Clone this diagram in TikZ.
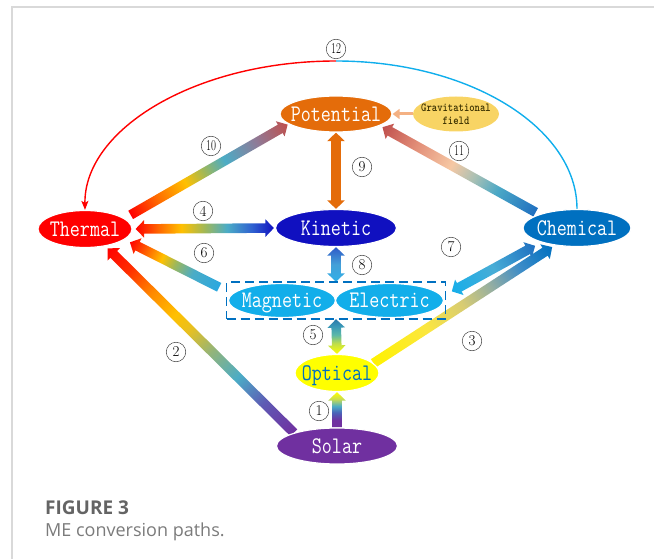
\documentclass[tikz,border=0pt]{standalone}
\usepackage{fontspec}
\newfontfamily\capfont{Open Sans}
\usetikzlibrary{calc,arrows.meta,shapes.geometric}

% ---------- colours ----------
\definecolor{cRed}{HTML}{FF0000}
\definecolor{cPot}{HTML}{E46C0A}
\definecolor{cKin}{HTML}{1010C0}
\definecolor{cChem}{HTML}{0070C0}
\definecolor{cME}{HTML}{12AEEA}
\definecolor{cOpt}{HTML}{FFFF00}
\definecolor{cSol}{HTML}{7030A0}
\definecolor{cGrav}{HTML}{F8D464}
\definecolor{cGravTxt}{HTML}{3A3000}
\definecolor{cPeach}{HTML}{F4B183}
\definecolor{cSky}{HTML}{10AEEC}
\definecolor{cFrame}{HTML}{D9D9D9}
\definecolor{cCap}{HTML}{646464}

\definecolor{gOrange}{HTML}{FF6A00}
\definecolor{gOrangeB}{HTML}{FF8A00}
\definecolor{gRedOr}{HTML}{FF3000}
\definecolor{gGold}{HTML}{FFC000}
\definecolor{gGoldB}{HTML}{E8C020}
\definecolor{gOlive}{HTML}{A0B858}
\definecolor{gOliveB}{HTML}{92B47A}
\definecolor{gTeal}{HTML}{4BACC6}
\definecolor{gBlue}{HTML}{2F62D0}
\definecolor{gViolet}{HTML}{5E5AB4}
\definecolor{gVioBlue}{HTML}{4A62B8}
\definecolor{gYelGrn}{HTML}{C8DC50}
\definecolor{gYelA}{HTML}{FFF200}
\definecolor{gYelB}{HTML}{FBE640}
\definecolor{gKhaki}{HTML}{D8CC72}
\definecolor{gGrayTeal}{HTML}{94AEA2}
\definecolor{gMidBlue}{HTML}{3C8CC8}
\definecolor{gYelGrnB}{HTML}{C0DE48}
\definecolor{gSeaGrn}{HTML}{5CB8A8}
\definecolor{gSeaBlue}{HTML}{3A98B8}
\definecolor{gDeepTeal}{HTML}{2A78A8}
\definecolor{gSkyA}{HTML}{2AA8E0}
\definecolor{gSkyB}{HTML}{16AEEA}
\definecolor{gSkyC}{HTML}{48ADD6}
\definecolor{gChemB}{HTML}{1F6FC0}
\definecolor{gSkyD}{HTML}{30B0E8}
\definecolor{gSkyE}{HTML}{44A0D8}
\definecolor{gKinB}{HTML}{2F5AC8}
\definecolor{gMauve}{HTML}{8E7B98}
\definecolor{gBrick}{HTML}{C0504D}
\definecolor{gTealB}{HTML}{4BA8C6}
\definecolor{gSage}{HTML}{A8C0B4}
\definecolor{gPeach}{HTML}{F6C8A4}
\definecolor{gSalmon}{HTML}{E28E78}

% ---------- shadings of the flow arrows (25bp = tail, 75bp = tip) ----------
\pgfdeclarehorizontalshading{flowI}{100bp}{color(0bp)=(cSol); color(25bp)=(cSol); color(35bp)=(cSol); color(46bp)=(gVioBlue); color(55bp)=(gTeal); color(65bp)=(gYelGrn); color(75bp)=(cOpt); color(100bp)=(cOpt)}
\pgfdeclarehorizontalshading{flowII}{100bp}{color(0bp)=(cSol); color(25bp)=(cSol); color(33bp)=(gViolet); color(40bp)=(gTeal); color(47bp)=(gOliveB); color(53bp)=(gGoldB); color(57bp)=(gGold); color(63bp)=(gOrangeB); color(69bp)=(gRedOr); color(75bp)=(cRed); color(100bp)=(cRed)}
\pgfdeclarehorizontalshading{flowIII}{100bp}{color(0bp)=(gYelA); color(25bp)=(gYelA); color(40bp)=(gYelB); color(50bp)=(gKhaki); color(58bp)=(gGrayTeal); color(66bp)=(gMidBlue); color(75bp)=(cChem); color(100bp)=(cChem)}
\pgfdeclarehorizontalshading{flowIV}{100bp}{color(0bp)=(cRed); color(25bp)=(cRed); color(33.5bp)=(gOrange); color(41.5bp)=(gGold); color(50bp)=(gOlive); color(58bp)=(gTeal); color(67bp)=(gBlue); color(75bp)=(cKin); color(100bp)=(cKin)}
\pgfdeclarehorizontalshading{flowV}{100bp}{color(0bp)=(cOpt); color(25bp)=(cOpt); color(40bp)=(gYelGrnB); color(52.5bp)=(gSeaGrn); color(65bp)=(gSeaBlue); color(75bp)=(gDeepTeal); color(100bp)=(gDeepTeal)}
\pgfdeclarehorizontalshading{flowVI}{100bp}{color(0bp)=(gSkyA); color(25bp)=(gSkyA); color(40bp)=(gTeal); color(50bp)=(gOlive); color(57bp)=(gGold); color(65bp)=(gOrange); color(75bp)=(cRed); color(100bp)=(cRed)}
\pgfdeclarehorizontalshading{flowVII}{100bp}{color(0bp)=(gSkyB); color(25bp)=(gSkyB); color(50bp)=(gSkyC); color(75bp)=(gChemB); color(100bp)=(gChemB)}
\pgfdeclarehorizontalshading{flowVIII}{100bp}{color(0bp)=(gSkyD); color(25bp)=(gSkyD); color(50bp)=(gSkyE); color(75bp)=(gKinB); color(100bp)=(gKinB)}
\pgfdeclarehorizontalshading{flowIX}{100bp}{color(0bp)=(cPot); color(100bp)=(cPot)}
\pgfdeclarehorizontalshading{flowX}{100bp}{color(0bp)=(cRed); color(25bp)=(cRed); color(33.5bp)=(gOrange); color(42.5bp)=(gGold); color(48.5bp)=(gOlive); color(55bp)=(gTeal); color(65bp)=(gMauve); color(75bp)=(gBrick); color(100bp)=(gBrick)}
\pgfdeclarehorizontalshading{flowXI}{100bp}{color(0bp)=(gChemB); color(25bp)=(gChemB); color(37.5bp)=(gTealB); color(45bp)=(gSage); color(52.5bp)=(gPeach); color(64bp)=(gSalmon); color(75bp)=(gBrick); color(100bp)=(gBrick)}

% ---------- a broad shaded arrow between two anchors ----------
% #1 tail, #2 tip, #3 shading, #4 = 1 for a head at both ends,
% #5 gap left at the tail, #6 gap left at the tip
\def\shaftw{4.8}
\def\headw{8.8}
\def\headl{8.5}
\newcommand\flowarrow[6]{%
  \path ($(#1)!#5!(#2)$); \pgfgetlastxy{\fax}{\fay}%
  \path ($(#2)!#6!(#1)$); \pgfgetlastxy{\fbx}{\fby}%
  \pgfmathsetmacro\fang{atan2((\fby)-(\fay),(\fbx)-(\fax))}%
  \pgfmathsetmacro\flen{veclen((\fbx)-(\fax),(\fby)-(\fay))}%
  \pgfmathsetmacro\fneck{\flen-\headl}%
  \begin{scope}[transform canvas={shift={(\fax,\fay)},rotate=\fang}]
    \ifnum#4=1
      \shade[shading=#3] (0,0) -- (\headl,\headw) -- (\headl,\shaftw) -- (\fneck,\shaftw)
        -- (\fneck,\headw) -- (\flen,0) -- (\fneck,-\headw) -- (\fneck,-\shaftw)
        -- (\headl,-\shaftw) -- (\headl,-\headw) -- cycle;
    \else
      \shade[shading=#3] (0,\shaftw) -- (\fneck,\shaftw) -- (\fneck,\headw) -- (\flen,0)
        -- (\fneck,-\headw) -- (\fneck,-\shaftw) -- (0,-\shaftw) -- cycle;
    \fi
  \end{scope}%
}

\tikzset{
  energy/.style={ellipse, inner sep=0pt, draw=white, line width=1.2pt, text=white,
    font=\ttfamily\fontsize{19.5}{19.5}\selectfont, text height=14.4pt, text depth=0pt},
  pathno/.style={circle, draw=black!75, line width=0.5pt, minimum size=19.5pt, inner sep=0pt,
    font=\fontsize{15}{15}\selectfont},
  arcline/.style={line width=1.4pt},
}

% tall, narrow lettering inside the ellipses
\newcommand\tallword[1]{\makebox[0pt]{\scalebox{1}[1.22]{#1}}}
\newcommand\twodig[1]{\scalebox{0.72}[1]{#1}}

\begin{document}
\begin{tikzpicture}[x=1pt,y=-1pt]
\useasboundingbox (0,0) rectangle (654,559);

% card frame
\draw[cFrame, line width=1.5pt] (12,559) -- (12,7) -- (654,7);

% ---------- energy forms (placed first so the arrows can refer to them) ----------
\path
  node[energy, minimum width=112pt, minimum height=36pt] (potential) at (336,114) {}
  node[ellipse, minimum width=86pt, minimum height=35pt, inner sep=0pt] (grav) at (456,114) {}
  node[energy, minimum width=94pt, minimum height=37pt] (thermal) at (85,229) {}
  node[energy, minimum width=121pt, minimum height=37pt] (kinetic) at (336,228) {}
  node[energy, minimum width=108pt, minimum height=37pt] (chemical) at (577,228) {}
  node[minimum width=219pt, minimum height=37pt, inner sep=0pt] (mebox) at (336,300.5) {}
  node[energy, minimum width=84pt, minimum height=37pt] (optical) at (337,373) {}
  node[energy, minimum width=121pt, minimum height=36pt] (solar) at (337,446) {};

% ---------- conversion paths ----------
\flowarrow{solar.north}{optical.south}{flowI}{0}{0pt}{0pt}
\flowarrow{solar.163}{thermal.-40}{flowII}{0}{0pt}{3pt}
\flowarrow{optical.15}{chemical.-142}{flowIII}{0}{0pt}{3pt}
\flowarrow{thermal.east}{kinetic.west}{flowIV}{1}{3pt}{1pt}
\flowarrow{optical.north}{mebox.south}{flowV}{1}{0pt}{0pt}
\flowarrow{mebox.175}{thermal.-15}{flowVI}{0}{8pt}{6pt}
\flowarrow{mebox.3}{chemical.-158}{flowVII}{1}{7pt}{7pt}
\flowarrow{mebox.north}{kinetic.south}{flowVIII}{1}{0pt}{0pt}
\flowarrow{potential.south}{kinetic.north}{flowIX}{1}{0pt}{0pt}
\flowarrow{thermal.15}{potential.-168}{flowX}{0}{7pt}{1pt}
\flowarrow{chemical.160}{potential.-15}{flowXI}{0}{4pt}{3pt}

% gravity feeds potential energy
\draw[cPeach, line width=3pt, -{Triangle[length=7pt,width=10pt]}] (grav.west) -- (potential.east);

% path 12: chemical back to thermal over the top
\coordinate (arctop) at (336,61);
\draw[cRed, arcline, -{Stealth[length=9pt,width=7pt,inset=2pt]}]
  (arctop) .. controls (196,61) and (84,129) .. (thermal.north);
\draw[cSky, arcline] (arctop) .. controls (470,61) and (577,128) .. (chemical.north);

% ---------- energy forms drawn on top ----------
\node[energy, fill=cPot, minimum width=112pt, minimum height=36pt] at (potential) {\tallword{Potential}};
\node[ellipse, fill=cGrav, minimum width=86pt, minimum height=35pt, inner xsep=-12pt, inner ysep=0pt,
  align=center, text=cGravTxt, font=\ttfamily\bfseries\fontsize{10.2}{13}\selectfont] at (grav)
  {\scalebox{1}[1.2]{Gravitational}\\\scalebox{1}[1.2]{field}};
\node[energy, fill=cRed, minimum width=94pt, minimum height=37pt] at (thermal) {\tallword{Thermal}};
\node[energy, fill=cKin, minimum width=121pt, minimum height=37pt] at (kinetic) {\tallword{Kinetic}};
\node[energy, fill=cChem, minimum width=108pt, minimum height=37pt] at (chemical) {\tallword{Chemical}};
\node[energy, fill=cME, minimum width=107pt, minimum height=34pt] (magnetic) at (282,300.5) {\tallword{Magnetic}};
\node[energy, fill=cME, minimum width=108pt, minimum height=34pt] (electric) at (389.5,300.5) {\tallword{Electric}};
\node[draw=cChem, line width=1.6pt, dash pattern=on 9pt off 5pt, minimum width=219pt, minimum height=37pt, inner sep=0pt] at (mebox) {};
\node[energy, fill=cOpt, text=cChem, minimum width=84pt, minimum height=37pt] at (optical) {\tallword{Optical}};
\node[energy, fill=cSol, minimum width=121pt, minimum height=36pt] at (solar) {\tallword{Solar}};

% ---------- path numbers ----------
\node[pathno] (n1) at (319,411) {1};
\node[pathno] (n2) at (176,352) {2};
\node[pathno] (n3) at (472,341) {3};
\node[pathno] (n4) at (203,211) {4};
\node[pathno] (n5) at (313,335) {5};
\node[pathno] (n6) at (204,253) {6};
\node[pathno] (n7) at (451,247) {7};
\node[pathno] (n8) at (362,265) {8};
\node[pathno] (n9) at (362,167) {9};
\node[pathno] (n10) at (211,146) {\twodig{10}};
\node[pathno] (n11) at (459,151) {\twodig{11}};
\node[pathno] (n12) at (336,49) {\twodig{12}};

% ---------- caption ----------
\node[anchor=base west, inner sep=0pt, text=cCap, font=\capfont\bfseries\fontsize{19}{19}\selectfont] (figno) at (45,514) {FIGURE 3};
\node[anchor=base west, inner sep=0pt, text=cCap!85, font=\capfont\fontsize{18}{18}\selectfont] (figcap) at (45,536) {ME conversion paths.};
\end{tikzpicture}
\end{document}
